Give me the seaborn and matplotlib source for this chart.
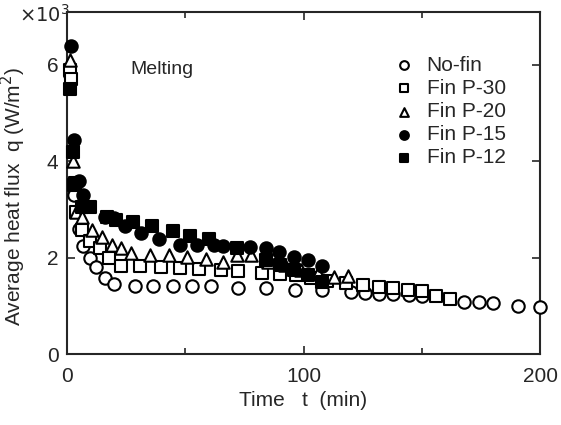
import matplotlib
matplotlib.use("Agg")
import matplotlib.pyplot as plt
import seaborn as sns
import pandas as pd
from matplotlib.ticker import MultipleLocator

sns.set_style("ticks")
plt.rcParams['font.family'] = ['Liberation Sans', 'DejaVu Sans']

# ---- data (t in min, q in 10^3 W/m^2) ----
nofin_t = [1.5, 3, 5, 7, 9.7, 12.3, 16, 20, 29, 36.5, 45, 53, 61, 72.5, 84, 96.5, 108, 120, 126, 132, 138, 144.5, 150, 168, 174, 180, 190.5, 200]
nofin_q = [5.8, 3.3, 2.6, 2.25, 2.0, 1.81, 1.58, 1.45, 1.42, 1.42, 1.42, 1.42, 1.42, 1.38, 1.38, 1.33, 1.33, 1.28, 1.27, 1.25, 1.24, 1.22, 1.2, 1.08, 1.07, 1.05, 1.0, 0.98]

p30_t = [1.5, 2, 3, 4, 6.5, 10, 14, 18, 23, 31, 40, 48, 56, 65, 72.5, 82.5, 90, 97, 103, 110, 118, 125, 132, 138, 144, 150, 156, 162]
p30_q = [5.9, 5.7, 3.5, 2.95, 2.58, 2.35, 2.2, 2.0, 1.83, 1.82, 1.8, 1.78, 1.77, 1.75, 1.72, 1.68, 1.66, 1.63, 1.58, 1.52, 1.48, 1.44, 1.40, 1.38, 1.33, 1.30, 1.2, 1.15]

p20_t = [1.5, 2.5, 4, 6.5, 10.5, 15, 19, 23, 27, 35, 43, 51, 59, 66, 72, 78, 85, 92, 99, 106, 113, 119]
p20_q = [6.1, 4.0, 2.95, 2.85, 2.58, 2.42, 2.27, 2.2, 2.1, 2.06, 2.05, 2.02, 1.97, 1.92, 2.05, 2.05, 1.9, 1.85, 1.75, 1.68, 1.6, 1.62]

p15_t = [2, 3, 5, 7, 16, 20, 24.5, 31.5, 39, 48, 55, 62, 66, 77.5, 84, 89.5, 96, 102, 108]
p15_q = [6.4, 4.45, 3.6, 3.3, 2.85, 2.82, 2.65, 2.52, 2.38, 2.27, 2.27, 2.27, 2.25, 2.22, 2.2, 2.12, 2.02, 1.95, 1.82]

p12_t = [1.5, 2.5, 3.5, 6.5, 10, 17, 21, 28, 36, 45, 52, 60, 72, 84, 90, 96, 102, 108]
p12_q = [5.5, 4.2, 3.55, 3.05, 3.05, 2.85, 2.78, 2.73, 2.65, 2.55, 2.45, 2.38, 2.2, 1.95, 1.85, 1.75, 1.65, 1.5]

labels = ["No-fin", "Fin P-30", "Fin P-20", "Fin P-15", "Fin P-12"]
series = [(nofin_t, nofin_q), (p30_t, p30_q), (p20_t, p20_q), (p15_t, p15_q), (p12_t, p12_q)]
markers = ["o", "s", "^", "o", "s"]
filled = [False, False, False, True, True]

fig = plt.figure(figsize=(5.61, 4.25), dpi=100)
ax = fig.add_axes([0.119, 0.167, 0.844, 0.805])

for (t, q), lab, m, f in zip(series, labels, markers, filled):
    df = pd.DataFrame({"t": t, "q": q})
    sns.scatterplot(data=df, x="t", y="q", ax=ax, marker=m, s=80,
                    facecolor="black" if f else "white", edgecolor="black",
                    linewidth=1.5, label=lab, zorder=3, clip_on=False)

ax.set_xlim(0, 200)
ax.set_ylim(0, 7.1)
ax.xaxis.set_major_locator(MultipleLocator(100))
ax.xaxis.set_minor_locator(MultipleLocator(50))
ax.yaxis.set_major_locator(MultipleLocator(2))
ax.tick_params(which="both", direction="in", top=True, right=True, width=1.2)
ax.tick_params(which="major", length=6, labelsize=15)
ax.tick_params(axis="x", which="major", pad=9)
ax.tick_params(axis="y", which="major", pad=6)
ax.tick_params(which="minor", length=4)
for sp in ax.spines.values():
    sp.set_linewidth(1.5)

ax.set_xlabel("Time   t  (min)", fontsize=15, labelpad=4)
ax.set_ylabel("Average heat flux  q (W/m$^2$)", fontsize=15)
ax.yaxis.set_label_coords(-0.082, 0.46)
ax.text(27, 5.9, "Melting", fontsize=14, ha="left", va="center")
ax.text(-0.1, 0.99, r"$\times 10^3$", transform=ax.transAxes, fontsize=14, ha="left", va="center")

leg = ax.legend(loc="upper right", frameon=False, fontsize=15, handletextpad=0.6,
                handlelength=1.0, labelspacing=0.2, markerscale=0.7,
                borderpad=0, borderaxespad=0, bbox_to_anchor=(0.927, 0.872))

fig.savefig("out.png", dpi=100)
